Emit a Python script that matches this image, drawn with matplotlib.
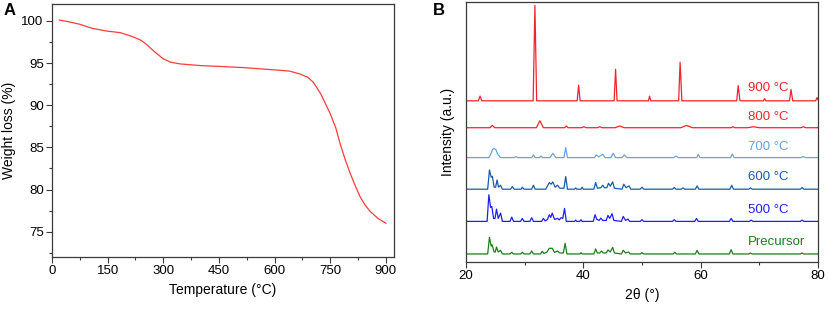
import numpy as np
import matplotlib
matplotlib.use("Agg")
import matplotlib.pyplot as plt
from matplotlib.ticker import MultipleLocator

plt.rcParams['font.family'] = ['Liberation Sans', 'DejaVu Sans']

# --- panel A: TGA curve (temperature in degC, weight %) ---
tga_temp = [20, 45, 75, 110, 147, 185, 219, 240, 255, 275, 300, 320, 345, 400, 453, 520, 597, 640, 669,
            690, 705, 725, 750, 765, 777, 790, 804, 818, 831, 845, 858, 878, 900]
tga_weight = [100.1, 99.9, 99.6, 99.1, 98.8, 98.6, 98.1, 97.7, 97.2, 96.4, 95.5, 95.1, 94.9, 94.7, 94.6,
              94.45, 94.2, 94.05, 93.7, 93.3, 92.7, 91.3, 89.0, 87.3, 85.4, 83.6, 81.9, 80.4, 79.1, 78.1,
              77.4, 76.6, 76.0]

# --- panel B: XRD patterns, (2theta, intensity above own baseline) ---
pts_900 = [(20, 0), (22.1, 0), (22.4, 4.7), (22.7, 0), (31.45, 0), (31.75, 95.7), (32.05, 0),
           (38.95, 0), (39.2, 15.7), (39.45, 0), (45.25, 0), (45.5, 31.7), (45.75, 0),
           (51.1, 0), (51.3, 4.7), (51.5, 0), (56.25, 0), (56.5, 38.7), (56.8, 0),
           (66.15, 0), (66.4, 15.3), (66.7, 0), (70.7, 0), (70.9, 2.3), (71.1, 0),
           (75.15, 0), (75.4, 11.3), (75.7, 0), (79.6, 0), (79.85, 3.3), (80, 1)]
pts_800 = [(20, 0), (24.1, 0), (24.5, 2.3), (24.9, 0), (32.0, 0), (32.6, 7), (33.2, 0),
           (36.8, 0), (37.1, 1.7), (37.4, 0), (39.7, 0), (40.1, 1), (40.5, 0), (42.4, 0), (42.8, 1),
           (43.2, 0), (45.4, 0), (46.2, 1.7), (47.0, 0), (56.6, 0), (57.6, 2.3), (58.6, 0),
           (65.2, 0), (65.5, 1), (65.8, 0), (68, 0), (69, 1), (70, 0), (77.1, 0), (77.5, 1),
           (77.9, 0), (80, 0)]
pts_700 = [(20, 0), (23.9, 0), (24.2, 3), (24.5, 8), (24.8, 9.3), (25.1, 8), (25.4, 3.5), (25.9, 0),
           (28.2, 0), (28.5, 1),
           (28.8, 0), (31.2, 0), (31.5, 2.7), (31.8, 0), (32.5, 0), (32.8, 1.5), (33.1, 0),
           (34.3, 0), (34.8, 4.3), (35.3, 0), (36.7, 0), (37.0, 10), (37.3, 0), (41.9, 0),
           (42.2, 2.7), (42.6, 0.8), (43.3, 3.3), (43.7, 0), (44.7, 0), (45.1, 4.3), (45.5, 0),
           (46.6, 0), (47.0, 2.7), (47.4, 0), (55.4, 0), (55.8, 1.5), (56.2, 0), (59.3, 0),
           (59.6, 3.3), (59.9, 0), (65.1, 0), (65.4, 3.7), (65.7, 0), (77.1, 0), (77.5, 1),
           (77.9, 0), (80, 0)]
pts_600 = [(20, 0), (23.7, 0), (24.0, 19.3), (24.3, 12), (24.5, 13), (24.8, 2), (25.05, 2),
           (25.3, 9.3), (25.55, 2), (25.9, 4), (26.2, 0), (27.6, 0), (27.9, 2.7), (28.2, 0),
           (29.4, 0), (29.6, 2), (29.9, 0), (31.2, 0), (31.5, 4), (31.8, 0), (33.6, 0), (34.2, 6.7),
           (34.5, 5), (34.8, 7.3), (35.2, 2), (35.6, 4), (36.0, 1), (36.7, 1), (37.0, 12.7),
           (37.3, 0), (38.5, 0), (38.7, 1.3), (38.9, 0), (39.6, 0), (39.8, 2), (40.0, 0),
           (41.8, 0), (42.1, 6.7), (42.4, 1), (43.0, 1.5), (43.3, 4), (43.6, 1.5), (44.0, 1.5),
           (44.3, 6), (44.6, 3), (45.0, 7.3), (45.3, 1), (46.6, 0), (46.9, 5), (47.3, 1.5),
           (47.8, 3.3), (48.1, 0), (49.7, 0), (50.0, 2), (50.3, 0), (55.2, 0), (55.5, 1.7),
           (55.8, 0), (56.7, 0), (57.0, 1.3), (57.3, 0), (59.1, 0), (59.4, 3.3), (59.7, 0),
           (65.0, 0), (65.3, 4), (65.6, 0), (68.2, 0), (68.5, 1.3), (68.8, 0), (77.0, 0),
           (77.3, 1.7), (77.6, 0), (80, 0)]
pts_500 = [(20, 0), (23.6, 0), (23.9, 26.7), (24.2, 14), (24.4, 15), (24.7, 3), (24.95, 3),
           (25.2, 12.3), (25.5, 3), (25.9, 8.3), (26.2, 0), (27.5, 0), (27.8, 4.3), (28.1, 0),
           (29.3, 0), (29.6, 3), (29.9, 0), (30.9, 0), (31.2, 3.7), (31.5, 0), (32.9, 0),
           (33.2, 3), (33.5, 0.5), (33.9, 2), (34.2, 6.7), (34.45, 4), (34.7, 8.3), (35.1, 2),
           (35.6, 3), (35.9, 1.5), (36.2, 3.7), (36.5, 3), (36.8, 13), (37.1, 0), (38.5, 0),
           (38.7, 1.3), (38.9, 0), (39.4, 0), (39.6, 1.7), (39.8, 0), (41.7, 0), (42.0, 6.7),
           (42.3, 2), (42.7, 1), (43.0, 3.3), (43.3, 1), (43.9, 1), (44.2, 6), (44.5, 3),
           (44.9, 7.7), (45.2, 1), (46.5, 0), (46.8, 5), (47.2, 1), (47.6, 2.3), (47.9, 0),
           (49.7, 0), (50.0, 1.7), (50.3, 0), (55.2, 0), (55.5, 1.7), (55.8, 0), (59.0, 0),
           (59.3, 3), (59.6, 0), (64.9, 0), (65.2, 3), (65.5, 0), (68.3, 0), (68.6, 1.3),
           (68.9, 0), (77.0, 0), (77.3, 1.3), (77.6, 0), (80, 0)]
pts_pre = [(20, 0), (23.7, 0), (24.0, 16.7), (24.3, 8), (24.45, 9.3), (24.8, 2), (25.0, 2),
           (25.2, 7), (25.5, 2), (25.9, 3.7), (26.2, 0), (27.5, 0), (27.8, 1.7), (28.1, 0),
           (29.3, 0), (29.6, 1.7), (29.9, 0), (30.9, 0), (31.2, 3), (31.5, 0), (32.7, 0),
           (33.0, 2.7), (33.3, 0.5), (33.8, 2), (34.2, 5.7), (34.7, 5.7), (35.1, 1.5), (35.6, 3),
           (36.0, 1), (36.6, 1), (36.9, 10.7), (37.2, 0), (39.4, 0), (39.6, 1.3), (39.8, 0),
           (41.8, 0), (42.1, 5), (42.4, 1), (42.8, 1), (43.1, 3), (43.4, 1), (43.9, 1), (44.2, 4),
           (44.6, 2), (45.0, 6.7), (45.3, 1), (46.5, 0), (46.8, 3.7), (47.2, 1), (47.7, 2),
           (48.0, 0), (49.7, 0), (50.0, 1.3), (50.3, 0), (55.3, 0), (55.6, 1.7), (55.9, 0),
           (59.1, 0), (59.4, 3.7), (59.7, 0), (64.9, 0), (65.2, 4.3), (65.5, 0), (68.2, 0),
           (68.5, 1), (68.8, 0), (77.0, 0), (77.3, 1), (77.6, 0), (80, 0)]

xrd_labels = ['Precursor', '500 °C', '600 °C', '700 °C', '800 °C', '900 °C']
xrd_data = [pts_pre, pts_500, pts_600, pts_700, pts_800, pts_900]
xrd_offsets = [8, 40.7, 73, 104.7, 134.7, 161.7]
xrd_colors = ['#1e7b1e', '#1f1ff5', '#1c5aa6', '#6aa3d8', '#f0242c', '#f0242c']
label_y = [20, 51.7, 85.7, 115.7, 145, 175]

fig = plt.figure(figsize=(8.29, 3.10), dpi=100)
axA = fig.add_axes([0.0627, 0.171, 0.4126, 0.816])
axB = fig.add_axes([0.5621, 0.155, 0.4246, 0.839])

spine_col = '#3a3a3a'
for ax in (axA, axB):
    for s in ax.spines.values():
        s.set_color(spine_col)
        s.set_linewidth(0.9)
    ax.tick_params(which='major', length=4, width=0.8, color=spine_col, labelsize=9.5, pad=2)
    ax.tick_params(which='minor', length=2.5, width=0.8, color=spine_col)

# panel A
axA.plot(tga_temp, tga_weight, color='#ff3b3b', lw=0.9)
axA.set_xlim(0, 922)
axA.set_ylim(72, 102)
axA.xaxis.set_major_locator(MultipleLocator(150))
axA.xaxis.set_minor_locator(MultipleLocator(75))
axA.yaxis.set_major_locator(MultipleLocator(5))
axA.yaxis.set_minor_locator(MultipleLocator(2.5))
axA.set_xlabel('Temperature (°C)', fontsize=10, labelpad=4)
axA.set_ylabel('Weight loss (%)', fontsize=10, labelpad=4)
fig.text(0.004, 0.965, 'A', fontsize=12, fontweight='bold', va='center', ha='left')

# panel B
for pts, off, col, lab, ly in zip(xrd_data, xrd_offsets, xrd_colors, xrd_labels, label_y):
    tt = np.array([p[0] for p in pts])
    inten = np.array([p[1] for p in pts]) + off
    axB.plot(tt, inten, color=col, lw=0.9)
    axB.text(68.1, ly, lab, color=col, fontsize=9.5, ha='left', va='center')
axB.set_xlim(20, 80)
axB.set_ylim(0, 261)
axB.xaxis.set_major_locator(MultipleLocator(20))
axB.xaxis.set_minor_locator(MultipleLocator(10))
axB.set_yticks([])
axB.set_xlabel('2θ (°)', fontsize=10, labelpad=4)
axB.set_ylabel('Intensity (a.u.)', fontsize=10, labelpad=8)
fig.text(0.522, 0.965, 'B', fontsize=12, fontweight='bold', va='center', ha='left')

fig.savefig('out.png', dpi=100)
